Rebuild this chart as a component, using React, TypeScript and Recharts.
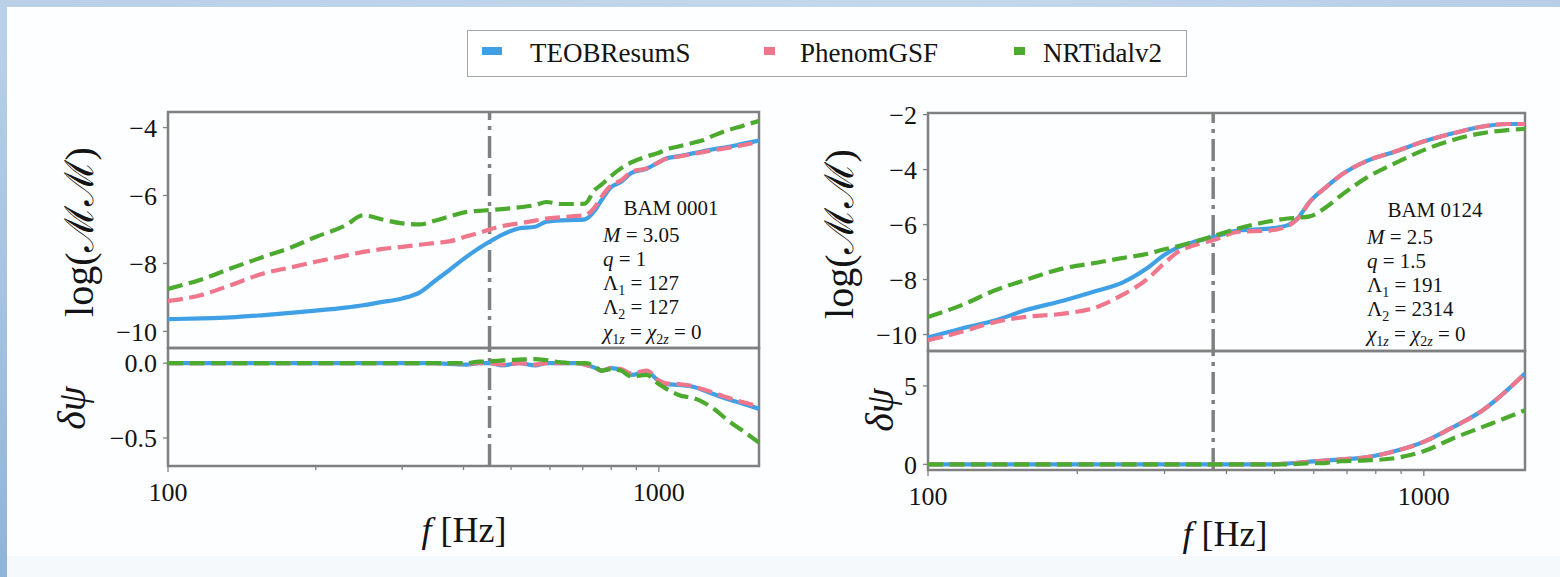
import React from "react";
import { LineChart, Line, XAxis, YAxis, ReferenceLine, ReferenceArea } from "recharts";

const SERIES = ["TEOBResumS", "PhenomGSF", "NRTidalv2"];
const COLORS = ["#3fa0e6", "#f0768b", "#4cab2e"];
const AXIS = "#808080";
const INK = "#141414";
const FONT = "Liberation Serif, DejaVu Serif, serif";

const xTicks = [100, 200, 300, 400, 500, 600, 700, 800, 900, 1000];
const xDomain: [number, number] = [100, 1600];

// BAM 0001 (left)
const bam1Freq = [100, 117, 134, 157, 180, 200, 230, 250, 272, 300, 326, 348, 374, 406, 430, 452, 480, 518, 560, 590, 632, 680, 707, 740, 764, 800, 837, 880, 944, 1000, 1034, 1100, 1180, 1230, 1300, 1380, 1480, 1600];
const bam1TeobMM = [-9.64, -9.62, -9.59, -9.52, -9.45, -9.39, -9.3, -9.23, -9.14, -9.03, -8.85, -8.54, -8.2, -7.8, -7.55, -7.36, -7.15, -6.97, -6.92, -6.77, -6.73, -6.72, -6.7, -6.45, -6.14, -5.75, -5.6, -5.33, -5.21, -5.02, -4.91, -4.84, -4.75, -4.7, -4.63, -4.57, -4.48, -4.38];
const bam1PhenomMM = [-9.11, -8.93, -8.64, -8.29, -8.1, -7.95, -7.77, -7.66, -7.58, -7.51, -7.45, -7.4, -7.35, -7.2, -7.1, -7.0, -6.9, -6.82, -6.74, -6.68, -6.64, -6.6, -6.58, -6.35, -6.04, -5.7, -5.56, -5.3, -5.2, -5.02, -4.92, -4.85, -4.77, -4.72, -4.66, -4.6, -4.52, -4.42];
const bam1NrtMM = [-8.75, -8.47, -8.15, -7.8, -7.5, -7.22, -6.88, -6.58, -6.7, -6.82, -6.85, -6.75, -6.62, -6.48, -6.45, -6.43, -6.4, -6.35, -6.28, -6.19, -6.25, -6.25, -6.24, -5.84, -5.68, -5.42, -5.2, -5.02, -4.85, -4.74, -4.65, -4.55, -4.44, -4.37, -4.22, -4.08, -3.95, -3.8];
const bam1TeobDpsi = [0, 0, 0, 0, 0, 0, 0, 0, 0, 0, 0, 0, -0.005, -0.01, 0, 0, -0.016, 0, -0.016, 0, 0, 0, -0.01, -0.03, -0.05, -0.034, -0.045, -0.079, -0.056, -0.12, -0.14, -0.146, -0.16, -0.18, -0.21, -0.24, -0.27, -0.305];
const bam1PhenomDpsi = [0, 0, 0, 0, 0, 0, 0, 0, 0, 0, 0, 0, 0, -0.005, 0, 0, -0.01, 0, -0.01, 0, 0, 0, -0.01, -0.03, -0.05, -0.034, -0.04, -0.07, -0.05, -0.115, -0.135, -0.14, -0.155, -0.175, -0.2, -0.23, -0.26, -0.29];
const bam1NrtDpsi = [0, 0, 0, 0, 0, 0, 0, 0, 0, 0, 0, 0, 0, 0, 0.01, 0.011, 0.018, 0.023, 0.027, 0.02, 0.005, 0, 0, -0.02, -0.05, -0.04, -0.05, -0.09, -0.079, -0.14, -0.17, -0.214, -0.235, -0.26, -0.31, -0.38, -0.45, -0.53];
const bam1Contact = 452;

// BAM 0124 (right)
const bam124Freq = [100, 117, 137, 157, 188, 220, 246, 276, 300, 320, 340, 377, 424, 486, 532, 556, 589, 637, 682, 764, 876, 1002, 1150, 1315, 1475, 1600];
const bam124TeobMM = [-10.11, -9.78, -9.48, -9.12, -8.76, -8.4, -8.12, -7.6, -7.1, -6.82, -6.66, -6.45, -6.21, -6.15, -6.02, -5.78, -5.17, -4.62, -4.19, -3.7, -3.34, -2.97, -2.67, -2.43, -2.34, -2.34];
const bam124PhenomMM = [-10.21, -9.9, -9.54, -9.36, -9.24, -8.99, -8.57, -8.0, -7.4, -6.98, -6.78, -6.56, -6.26, -6.22, -6.05, -5.8, -5.17, -4.62, -4.19, -3.7, -3.34, -2.97, -2.67, -2.43, -2.34, -2.34];
const bam124NrtMM = [-9.36, -8.93, -8.38, -8.02, -7.59, -7.38, -7.22, -7.07, -6.9, -6.78, -6.65, -6.41, -6.13, -5.89, -5.78, -5.75, -5.7, -5.35, -4.93, -4.31, -3.76, -3.28, -2.91, -2.67, -2.56, -2.52];
const bam124TeobDpsi = [0, 0, 0, 0, 0, 0, 0, 0, 0, 0, 0, 0, 0, 0, 0.05, 0.1, 0.17, 0.25, 0.32, 0.45, 0.85, 1.45, 2.4, 3.45, 4.75, 5.8];
const bam124PhenomDpsi = [0, 0, 0, 0, 0, 0, 0, 0, 0, 0, 0, 0, 0, 0, 0.05, 0.1, 0.17, 0.25, 0.32, 0.45, 0.85, 1.45, 2.4, 3.45, 4.75, 5.8];
const bam124NrtDpsi = [0, 0, 0, 0, 0, 0, 0, 0, 0, 0, 0, 0, 0, 0, 0, 0.03, 0.06, 0.1, 0.2, 0.25, 0.4, 0.85, 1.68, 2.39, 3.0, 3.45];
const bam124Contact = 376;

const toRows = (freq: number[], a: number[], b: number[], c: number[]) =>
  freq.map((f, i) => ({ f, teob: a[i], phenom: b[i], nrt: c[i] }));

const minus = (v: number, digits = 0) => {
  const s = Math.abs(v).toFixed(digits);
  return v < 0 ? `\u2212${s}` : s;
};

const XTick = (props: any) => {
  const { x, y, payload } = props;
  const v = payload.value;
  const major = v === 100 || v === 1000;
  return (
    <g>
      <line x1={x} x2={x} y1={y} y2={y + (major ? 6 : 4)} stroke={AXIS} strokeWidth={1.3} />
      {major && (
        <text x={x} y={y + 26} dy="0.35em" textAnchor="middle" fontSize={26} fontFamily={FONT} fill={INK}>
          {v}
        </text>
      )}
    </g>
  );
};

type PanelProps = {
  left: number;
  top: number;
  width: number;
  height: number;
  rows: any[];
  domain: [number, number];
  ticks: number[];
  fmt: (v: number) => string;
  contact: number;
  showX?: boolean;
};

function Panel({ left, top, width, height, rows, domain, ticks, fmt, contact, showX }: PanelProps) {
  const YW = 90;
  const PAD = 18;
  const XH = showX ? 40 : 0;
  return (
    <div style={{ position: "absolute", left: left - YW, top: top - PAD }}>
      <LineChart
        width={width + YW + PAD}
        height={height + PAD * 2 + XH}
        data={rows}
        margin={{ top: PAD, right: PAD, bottom: PAD, left: 0 }}
      >
        <XAxis
          dataKey="f"
          type="number"
          scale="log"
          domain={xDomain}
          allowDataOverflow
          ticks={xTicks}
          interval={0}
          hide={!showX}
          height={XH}
          axisLine={false}
          tickLine={false}
          tickSize={0}
          tickMargin={0}
          tick={<XTick />}
        />
        <YAxis
          type="number"
          domain={domain}
          allowDataOverflow
          ticks={ticks}
          interval={0}
          tickFormatter={fmt}
          width={YW}
          axisLine={false}
          tickSize={5}
          tickMargin={6}
          tickLine={{ stroke: AXIS, strokeWidth: 1.3 }}
          tick={{ fill: INK, fontSize: 26, fontFamily: FONT }}
        />
        <ReferenceLine x={contact} stroke={AXIS} strokeWidth={3.5} strokeDasharray="22 6 4 6" />
        <Line dataKey="teob" name={SERIES[0]} type="monotone" stroke={COLORS[0]} strokeWidth={4.2} dot={false} isAnimationActive={false} />
        <Line dataKey="phenom" name={SERIES[1]} type="monotone" stroke={COLORS[1]} strokeWidth={4.2} strokeDasharray="15 6.5" dot={false} isAnimationActive={false} />
        <Line dataKey="nrt" name={SERIES[2]} type="monotone" stroke={COLORS[2]} strokeWidth={4.2} strokeDasharray="15 6.5" dot={false} isAnimationActive={false} />
        <ReferenceArea x1={xDomain[0]} x2={xDomain[1]} y1={domain[0]} y2={domain[1]} fill="none" stroke={AXIS} strokeWidth={2.5} />
      </LineChart>
    </div>
  );
}

const abs = (l: number, t: number, extra: React.CSSProperties = {}): React.CSSProperties => ({
  position: "absolute",
  left: l,
  top: t,
  whiteSpace: "nowrap",
  fontFamily: FONT,
  color: INK,
  ...extra,
});

function RotLabel({ cx, cy, size, children }: { cx: number; cy: number; size: number; children: React.ReactNode }) {
  return (
    <div
      style={abs(cx - 150, cy - 30, {
        width: 300,
        height: 60,
        lineHeight: "60px",
        textAlign: "center",
        fontSize: size,
        transform: "rotate(-90deg)",
      })}
    >
      {children}
    </div>
  );
}

function Params({ x, bamCx, y0, name, m, q, l1, l2 }: { x: number; bamCx: number; y0: number; name: string; m: string; q: string; l1: string; l2: string }) {
  const fs = 21;
  const sub = { fontSize: 14 };
  const line = (t: number, node: React.ReactNode) => (
    <div style={abs(x, t - 13, { fontSize: fs, lineHeight: "26px" })}>{node}</div>
  );
  return (
    <>
      <div style={abs(bamCx - 70, y0 - 13, { width: 140, textAlign: "center", fontSize: fs, lineHeight: "26px" })}>{name}</div>
      {line(y0 + 27, <><i>M</i> = {m}</>)}
      {line(y0 + 51, <><i>q</i> = {q}</>)}
      {line(y0 + 75, <>Λ<sub style={sub}>1</sub> = {l1}</>)}
      {line(y0 + 99, <>Λ<sub style={sub}>2</sub> = {l2}</>)}
      {line(y0 + 124, <><i>χ</i><sub style={sub}>1<i>z</i></sub> = <i>χ</i><sub style={sub}>2<i>z</i></sub> = 0</>)}
    </>
  );
}

export default function App() {
  const bam1Top = toRows(bam1Freq, bam1TeobMM, bam1PhenomMM, bam1NrtMM);
  const bam1Bot = toRows(bam1Freq, bam1TeobDpsi, bam1PhenomDpsi, bam1NrtDpsi);
  const bam124Top = toRows(bam124Freq, bam124TeobMM, bam124PhenomMM, bam124NrtMM);
  const bam124Bot = toRows(bam124Freq, bam124TeobDpsi, bam124PhenomDpsi, bam124NrtDpsi);

  const legendItems = [
    { marker: [482, 20], text: 530 },
    { marker: [764, 11], text: 800 },
    { marker: [1014, 11], text: 1043 },
  ];

  return (
    <div
      style={{
        position: "fixed",
        left: 0,
        top: 0,
        width: 1560,
        height: 577,
        background: "#fdfeff",
        overflow: "hidden",
      }}
    >
      {/* slide frame */}
      <div style={{ position: "absolute", left: 0, top: 0, width: 1560, height: 7, background: "linear-gradient(90deg, #b9d0e7, #c4d8ec 60%, #b7cee6)" }} />
      <div style={{ position: "absolute", left: 0, top: 0, width: 7, height: 577, background: "linear-gradient(180deg, #bbd1e7, #9dbddf 70%, #8fb3d9)" }} />
      <div style={{ position: "absolute", left: 7, top: 556, width: 1553, height: 21, background: "#f6f9fc" }} />

      {/* legend */}
      <div style={{ position: "absolute", left: 467, top: 30, width: 718, height: 45, border: "1.5px solid #a5a5a5", background: "#fff" }} />
      {legendItems.map((it, i) => (
        <React.Fragment key={SERIES[i]}>
          <div style={{ position: "absolute", left: it.marker[0], top: 47, width: it.marker[1], height: 8, background: COLORS[i] }} />
          <div style={abs(it.text, 35, { fontSize: 27, lineHeight: "36px" })}>{SERIES[i]}</div>
        </React.Fragment>
      ))}

      {/* BAM 0001 */}
      <Panel left={168} top={112} width={591} height={236} rows={bam1Top} domain={[-10.49, -3.54]} ticks={[-10, -8, -6, -4]} fmt={(v) => minus(v)} contact={bam1Contact} />
      <Panel left={168} top={348} width={591} height={118} rows={bam1Bot} domain={[-0.687, 0.101]} ticks={[-0.5, 0]} fmt={(v) => minus(v, 1)} contact={bam1Contact} showX />
      <RotLabel cx={80} cy={232} size={40}>log(ℳℳ)</RotLabel>
      <RotLabel cx={72} cy={408} size={40}><i>δψ</i></RotLabel>
      <div style={abs(364, 509, { width: 200, textAlign: "center", fontSize: 36, lineHeight: "42px" })}><i>f</i>&nbsp;[Hz]</div>
      <Params x={603} bamCx={671} y0={208} name="BAM 0001" m="3.05" q="1" l1="127" l2="127" />

      {/* BAM 0124 */}
      <Panel left={928} top={113} width={597} height={238} rows={bam124Top} domain={[-10.6, -1.94]} ticks={[-10, -8, -6, -4, -2]} fmt={(v) => minus(v)} contact={bam124Contact} />
      <Panel left={928} top={351} width={597} height={119} rows={bam124Bot} domain={[-0.36, 7.23]} ticks={[0, 5]} fmt={(v) => minus(v)} contact={bam124Contact} showX />
      <RotLabel cx={840} cy={234} size={40}>log(ℳℳ)</RotLabel>
      <RotLabel cx={880} cy={410} size={40}><i>δψ</i></RotLabel>
      <div style={abs(1125, 513, { width: 200, textAlign: "center", fontSize: 36, lineHeight: "42px" })}><i>f</i>&nbsp;[Hz]</div>
      <Params x={1367} bamCx={1435} y0={210} name="BAM 0124" m="2.5" q="1.5" l1="191" l2="2314" />
    </div>
  );
}
